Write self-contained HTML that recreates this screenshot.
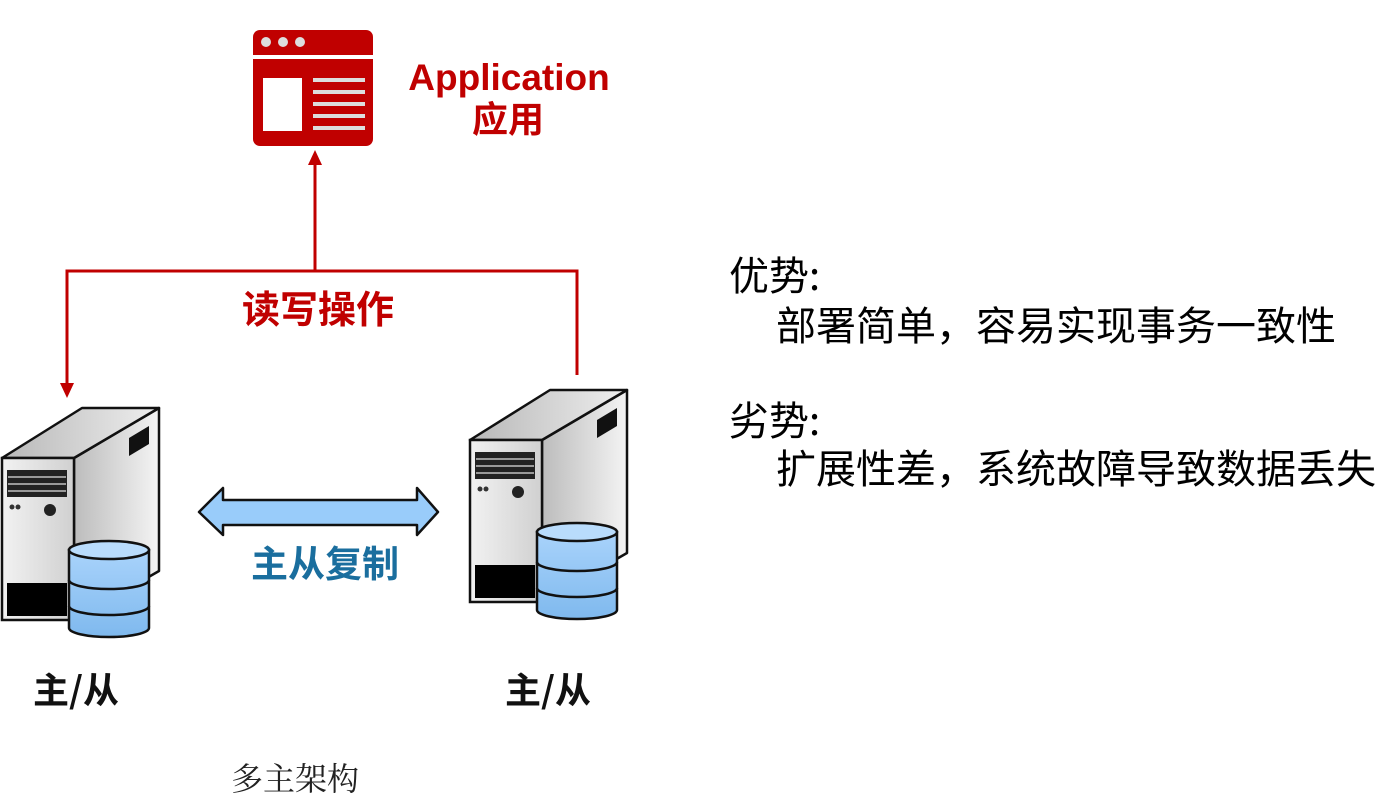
<!DOCTYPE html>
<html><head><meta charset="utf-8"><style>
html,body{margin:0;padding:0;background:#fff;}
svg{display:block;}
</style></head><body>
<svg width="1385" height="802" viewBox="0 0 1385 802" xmlns="http://www.w3.org/2000/svg">
<defs>
<linearGradient id="gf" x1="0" x2="1" y1="0" y2="0"><stop offset="0" stop-color="#f2f2f2"/><stop offset="1" stop-color="#d0d0d0"/></linearGradient>
<linearGradient id="gs" x1="0" x2="1" y1="0" y2="0"><stop offset="0" stop-color="#bcbcbc"/><stop offset="1" stop-color="#f4f4f4"/></linearGradient>
<linearGradient id="gt" x1="0" x2="1" y1="0" y2="0"><stop offset="0" stop-color="#b8b8b8"/><stop offset="1" stop-color="#eeeeee"/></linearGradient>
<linearGradient id="gd" x1="0" x2="0" y1="0" y2="1"><stop offset="0" stop-color="#a9d3fb"/><stop offset="1" stop-color="#7fb9ee"/></linearGradient>
<g id="srv">
  <polygon points="542,440 627,390 627,553 542,602" fill="url(#gs)" stroke="#111" stroke-width="2.5" stroke-linejoin="round"/>
  <polygon points="470,440 550,390 627,390 542,440" fill="url(#gt)" stroke="#111" stroke-width="2.5" stroke-linejoin="round"/>
  <rect x="470" y="440" width="72" height="162" fill="url(#gf)" stroke="#111" stroke-width="2.5"/>
  <rect x="475" y="452" width="60" height="27" fill="#222"/>
  <line x1="476" y1="459" x2="534" y2="459" stroke="#999" stroke-width="2"/>
  <line x1="476" y1="466" x2="534" y2="466" stroke="#999" stroke-width="2"/>
  <line x1="476" y1="473" x2="534" y2="473" stroke="#999" stroke-width="2"/>
  <circle cx="480" cy="489" r="2.5" fill="#333"/><circle cx="486" cy="489" r="2.5" fill="#333"/>
  <circle cx="518" cy="492" r="6" fill="#222"/>
  <rect x="475" y="565" width="60" height="33" fill="#000"/>
  <polygon points="597,420 617,408 617,426 597,438" fill="#111"/>
  <path d="M537,532 L537,610 A40,9 0 0 0 617,610 L617,532 Z" fill="url(#gd)" stroke="#111" stroke-width="2.5"/>
  <path d="M537,562 A40,9 0 0 0 617,562 M537,588 A40,9 0 0 0 617,588" fill="none" stroke="#111" stroke-width="2.5"/>
  <ellipse cx="577" cy="532" rx="40" ry="9" fill="#b9dcfc" stroke="#111" stroke-width="2.5"/>
</g>
</defs>

<rect x="253" y="30" width="120" height="116" rx="7" fill="#c00000"/>
<rect x="253" y="55" width="120" height="4" fill="#fff"/>
<circle cx="266" cy="42" r="5" fill="#ddd"/><circle cx="283" cy="42" r="5" fill="#ddd"/><circle cx="300" cy="42" r="5" fill="#ddd"/>
<rect x="263" y="78" width="39" height="53" fill="#fff"/>
<rect x="313" y="78" width="52" height="4" fill="#ddd"/>
<rect x="313" y="90" width="52" height="4" fill="#ddd"/>
<rect x="313" y="102" width="52" height="4" fill="#ddd"/>
<rect x="313" y="114" width="52" height="4" fill="#ddd"/>
<rect x="313" y="126" width="52" height="4" fill="#ddd"/>
<text x="509" y="90" text-anchor="middle" font-family="Liberation Sans, sans-serif" font-weight="bold" font-size="37" fill="#c00000">Application</text>
<text x="508" y="132" text-anchor="middle" font-family="Noto Sans CJK SC, sans-serif" font-weight="bold" font-size="36" fill="#c00000">应用</text>

<g stroke="#c00000" stroke-width="3" fill="none">
  <line x1="315" y1="270" x2="315" y2="162"/>
  <polyline points="67,385 67,271 577,271 577,375"/>
</g>
<polygon points="315,150 308,165 322,165" fill="#c00000"/>
<polygon points="67,398 60,383 74,383" fill="#c00000"/>
<text x="318" y="323" text-anchor="middle" font-family="Noto Sans CJK SC, sans-serif" font-weight="bold" font-size="38" fill="#c00000">读写操作</text>

<use href="#srv"/>
<use href="#srv" transform="translate(-468,18)"/>

<polygon points="199,512 223,488 223,500 417,500 417,488 438,512 417,535 417,525 223,525 223,535" fill="#99ccfa" stroke="#111" stroke-width="2.5" stroke-linejoin="round"/>
<text x="325" y="577" text-anchor="middle" font-family="Noto Sans CJK SC, sans-serif" font-weight="bold" font-size="37" fill="#1a6e9e">主从复制</text>

<text x="76" y="703" text-anchor="middle" font-family="Noto Sans CJK SC, sans-serif" font-weight="bold" font-size="36" fill="#111">主/从</text>
<text x="548" y="703" text-anchor="middle" font-family="Noto Sans CJK SC, sans-serif" font-weight="bold" font-size="36" fill="#111">主/从</text>
<text x="295" y="790" text-anchor="middle" font-family="Noto Serif CJK SC, serif" font-size="32" fill="#222">多主架构</text>

<g font-family="Noto Sans CJK SC, sans-serif" font-size="40" fill="#000">
<text x="729" y="290">优势:</text>
<text x="776" y="340">部署简单，容易实现事务一致性</text>
<text x="729" y="435">劣势:</text>
<text x="776" y="483">扩展性差，系统故障导致数据丢失</text>
</g>
</svg>
</body></html>
